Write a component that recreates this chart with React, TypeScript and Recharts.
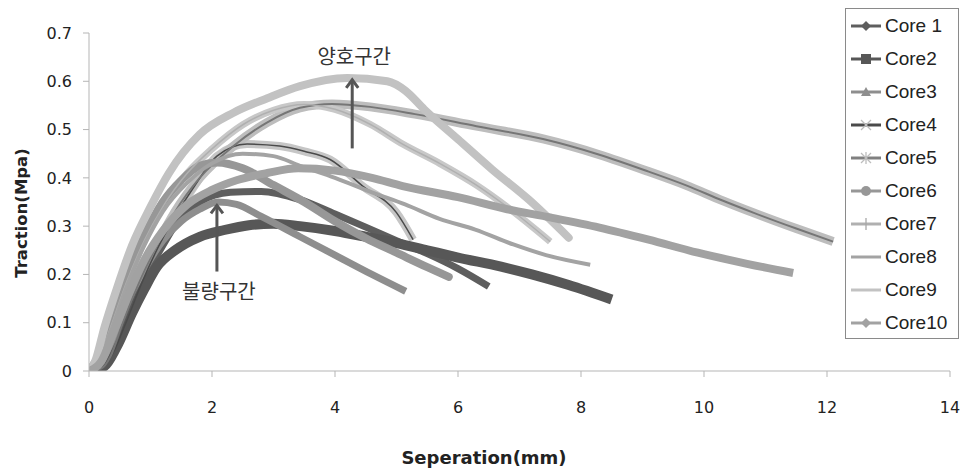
import React from 'react';
import { LineChart, Line, XAxis, YAxis, ReferenceLine } from 'recharts';

// Traction-separation curves
const core1X = [0, 0.2, 0.4, 0.65, 0.9, 1.2, 1.5, 1.8, 2.3, 2.8, 3.43, 4.0, 4.5, 5.0, 5.5, 6.0, 6.5];
const core1Y = [0, 0.01, 0.05, 0.12, 0.19, 0.26, 0.32, 0.35, 0.37, 0.372, 0.355, 0.325, 0.298, 0.27, 0.243, 0.212, 0.175];

const core2X = [0, 0.25, 0.45, 0.7, 0.9, 1.1, 1.4, 1.8, 2.2, 2.6, 3.0, 3.43, 4.0, 4.5, 5.0, 5.5, 6.0, 6.7, 7.2, 7.8, 8.5];
const core2Y = [0, 0.01, 0.05, 0.12, 0.17, 0.215, 0.25, 0.278, 0.292, 0.302, 0.305, 0.3, 0.29, 0.278, 0.265, 0.25, 0.235, 0.216, 0.2, 0.178, 0.148];

const core3X = [0, 0.2, 0.4, 0.65, 0.9, 1.2, 1.5, 1.8, 2.1, 2.4, 2.8, 3.43, 4.0, 4.6, 5.15];
const core3Y = [0, 0.02, 0.07, 0.15, 0.21, 0.27, 0.31, 0.335, 0.35, 0.345, 0.32, 0.278, 0.24, 0.2, 0.165];

const core4X = [0, 0.2, 0.4, 0.6, 0.85, 1.1, 1.4, 1.7, 2.08, 2.57, 3.1, 3.5, 3.92, 4.45, 5.0, 5.27];
const core4Y = [0, 0.005, 0.04, 0.1, 0.18, 0.25, 0.32, 0.38, 0.445, 0.47, 0.466, 0.455, 0.438, 0.383, 0.328, 0.272];

const core5X = [0, 0.2, 0.35, 0.55, 0.8, 1.1, 1.4, 1.8, 2.34, 2.9, 3.43, 3.95, 4.57, 5.3, 6.3, 7.4, 8.3, 9.1, 9.7, 10.3, 10.8, 11.5, 12.1];
const core5Y = [0, 0.005, 0.03, 0.1, 0.18, 0.26, 0.33, 0.4, 0.465, 0.515, 0.545, 0.553, 0.547, 0.532, 0.507, 0.48, 0.448, 0.413, 0.385, 0.353, 0.328, 0.295, 0.268];

const core6X = [0, 0.15, 0.35, 0.6, 0.9, 1.2, 1.5, 1.8, 2.08, 2.5, 3.0, 3.5, 4.0, 4.5, 5.0, 5.5, 5.85];
const core6Y = [0, 0.03, 0.1, 0.19, 0.28, 0.35, 0.395, 0.425, 0.432, 0.42, 0.385, 0.35, 0.31, 0.275, 0.245, 0.215, 0.195];

const core7X = [0, 0.15, 0.35, 0.6, 0.9, 1.2, 1.6, 2.0, 2.5, 3.0, 3.5, 4.0, 4.57, 5.1, 5.7, 6.3, 6.85, 7.5];
const core7Y = [0, 0.02, 0.09, 0.18, 0.27, 0.34, 0.41, 0.46, 0.51, 0.54, 0.552, 0.542, 0.511, 0.47, 0.43, 0.385, 0.335, 0.268];

const core8X = [0, 0.15, 0.35, 0.6, 0.9, 1.2, 1.6, 2.0, 2.5, 3.0, 3.43, 4.0, 4.6, 5.14, 5.7, 6.28, 6.9, 7.43, 8.15];
const core8Y = [0, 0.02, 0.08, 0.17, 0.26, 0.33, 0.39, 0.43, 0.45, 0.445, 0.425, 0.4, 0.37, 0.345, 0.315, 0.293, 0.262, 0.24, 0.22];

const core9X = [0, 0.1, 0.25, 0.45, 0.7, 1.0, 1.3, 1.8, 2.35, 2.9, 3.43, 4.2, 4.85, 5.15, 5.45, 6.0, 6.55, 7.15, 7.8];
const core9Y = [0, 0.02, 0.09, 0.17, 0.26, 0.34, 0.41, 0.49, 0.535, 0.565, 0.59, 0.607, 0.6, 0.58, 0.542, 0.48, 0.418, 0.355, 0.276];

const core10X = [0, 0.2, 0.4, 0.65, 0.9, 1.2, 1.6, 2.0, 2.4, 2.9, 3.4, 4.0, 4.6, 5.1, 6.0, 6.8, 7.5, 8.3, 9.1, 9.9, 10.7, 11.45];
const core10Y = [0, 0.02, 0.08, 0.16, 0.23, 0.29, 0.345, 0.375, 0.395, 0.41, 0.42, 0.415, 0.4, 0.383, 0.36, 0.335, 0.318, 0.297, 0.272, 0.245, 0.222, 0.203];

const xTicks = [0, 2, 4, 6, 8, 10, 12, 14];
const yTicks = [0, 0.1, 0.2, 0.3, 0.4, 0.5, 0.6, 0.7];

const toPts = (xs: number[], ys: number[]) => xs.map((x, i) => ({ x, y: ys[i] }));

type Series = {
  name: string;
  data: { x: number; y: number }[];
  color: string;
  width: number;
  under?: string; // light marker band under a thin line
  underWidth?: number;
  marker: string;
  markerColor: string;
};

const series: Series[] = [
  { name: 'Core 1', data: toPts(core1X, core1Y), color: '#5e5e5e', width: 7, marker: 'diamond', markerColor: '#5e5e5e' },
  { name: 'Core2', data: toPts(core2X, core2Y), color: '#575757', width: 10, marker: 'square', markerColor: '#575757' },
  { name: 'Core3', data: toPts(core3X, core3Y), color: '#8e8e8e', width: 7, marker: 'triangle', markerColor: '#8e8e8e' },
  { name: 'Core4', data: toPts(core4X, core4Y), color: '#4a4a4a', width: 1.5, under: '#c6c6c6', underWidth: 8, marker: 'x', markerColor: '#bdbdbd' },
  { name: 'Core5', data: toPts(core5X, core5Y), color: '#767676', width: 2, under: '#bdbdbd', underWidth: 9, marker: 'star', markerColor: '#bdbdbd' },
  { name: 'Core6', data: toPts(core6X, core6Y), color: '#979797', width: 8, marker: 'circle', markerColor: '#979797' },
  { name: 'Core7', data: toPts(core7X, core7Y), color: '#b0b0b0', width: 1.5, under: '#c8c8c8', underWidth: 7, marker: 'plus', markerColor: '#a8a8a8' },
  { name: 'Core8', data: toPts(core8X, core8Y), color: '#a3a3a3', width: 4, marker: 'none', markerColor: '#a3a3a3' },
  { name: 'Core9', data: toPts(core9X, core9Y), color: '#c2c2c2', width: 8, marker: 'none', markerColor: '#c2c2c2' },
  { name: 'Core10', data: toPts(core10X, core10Y), color: '#a2a2a2', width: 8, marker: 'diamond', markerColor: '#a2a2a2' },
];

const notes = [
  { text: '양호구간', x: 4.28, from: 0.461, to: 0.605, textAbove: true },
  { text: '불량구간', x: 2.08, from: 0.206, to: 0.345, textAbove: false },
];

const tickFont = { fontFamily: 'DejaVu Sans', fontSize: 16, fill: '#222' };

const LegendMark = ({ kind, color }: { kind: string; color: string }) => {
  const cx = 15;
  const cy = 8;
  switch (kind) {
    case 'diamond':
      return <polygon points={`${cx},${cy - 5} ${cx + 5},${cy} ${cx},${cy + 5} ${cx - 5},${cy}`} fill={color} />;
    case 'square':
      return <rect x={cx - 5} y={cy - 5} width={10} height={10} fill={color} />;
    case 'triangle':
      return <polygon points={`${cx},${cy - 5} ${cx + 5},${cy + 4} ${cx - 5},${cy + 4}`} fill={color} />;
    case 'x':
      return (
        <g stroke={color} strokeWidth={1.3}>
          <line x1={cx - 5} y1={cy - 5} x2={cx + 5} y2={cy + 5} />
          <line x1={cx - 5} y1={cy + 5} x2={cx + 5} y2={cy - 5} />
        </g>
      );
    case 'star':
      return (
        <g stroke={color} strokeWidth={1.3}>
          <line x1={cx - 5} y1={cy - 5} x2={cx + 5} y2={cy + 5} />
          <line x1={cx - 5} y1={cy + 5} x2={cx + 5} y2={cy - 5} />
          <line x1={cx} y1={cy - 6} x2={cx} y2={cy + 6} />
        </g>
      );
    case 'circle':
      return <circle cx={cx} cy={cy} r={5} fill={color} />;
    case 'plus':
      return (
        <g stroke={color} strokeWidth={1.3}>
          <line x1={cx} y1={cy - 6} x2={cx} y2={cy + 6} />
        </g>
      );
    default:
      return null;
  }
};

const ChartLegend = () => (
  <div
    style={{
      position: 'absolute',
      left: 845,
      top: 8,
      width: 114,
      height: 331,
      border: '1px solid #8a8a8a',
      background: '#fff',
      boxSizing: 'border-box',
    }}
  >
    {series.map((s) => (
      <div key={s.name} style={{ height: 33, display: 'flex', alignItems: 'center', paddingLeft: 5 }}>
        <svg width={32} height={16} style={{ flex: 'none' }}>
          <line x1={0} y1={8} x2={30} y2={8} stroke={s.name === 'Core5' ? '#808080' : s.color} strokeWidth={3} />
          <LegendMark kind={s.marker} color={s.markerColor} />
        </svg>
        <span style={{ fontFamily: 'Liberation Sans', fontSize: 19, color: '#222', marginLeft: 2 }}>{s.name}</span>
      </div>
    ))}
  </div>
);

const arrowShape = (note: typeof notes[number]) => (props: any) => {
  const { x1, y1, x2, y2 } = props;
  const tipX = x2;
  const tipY = Math.min(y1, y2);
  const baseY = Math.max(y1, y2);
  return (
    <g>
      <line x1={x1} y1={baseY} x2={tipX} y2={tipY + 1} stroke="#555" strokeWidth={3} />
      <polyline
        points={`${tipX - 6},${tipY + 9} ${tipX},${tipY + 1} ${tipX + 6},${tipY + 9}`}
        fill="none"
        stroke="#555"
        strokeWidth={3}
      />
      <text
        x={tipX + 2}
        y={note.textAbove ? tipY - 15 : baseY + 27}
        textAnchor="middle"
        fontFamily="Noto Sans CJK KR"
        fontSize={20}
        fill="#333"
      >
        {note.text}
      </text>
    </g>
  );
};

export default function App() {
  return (
    <div style={{ position: 'absolute', left: 0, top: 0, width: 968, height: 470, background: '#fff' }}>
      <LineChart width={968} height={470} margin={{ top: 33, right: 18, bottom: 0, left: 0 }}>
        <XAxis
          type="number"
          dataKey="x"
          domain={[0, 14]}
          ticks={xTicks}
          allowDataOverflow
          stroke="#b5b5b5"
          tick={tickFont}
          tickSize={6}
          tickMargin={25}
          height={99}
          label={{
            content: () => (
              <text x={484} y={464} textAnchor="middle" fontFamily="DejaVu Sans" fontWeight="bold" fontSize={18} fill="#222">
                Seperation(mm)
              </text>
            ),
          }}
        />
        <YAxis
          type="number"
          domain={[0, 0.7]}
          ticks={yTicks}
          allowDataOverflow
          width={89}
          stroke="#b5b5b5"
          tick={tickFont}
          tickSize={6}
          tickMargin={11}
          tickFormatter={(v: number) => (v === 0 ? '0' : v.toFixed(1))}
          label={{
            content: () => (
              <text
                x={0}
                y={0}
                transform="translate(27,213) rotate(-90)"
                textAnchor="middle"
                fontFamily="DejaVu Sans"
                fontWeight="bold"
                fontSize={16.5}
                fill="#222"
              >
                Traction(Mpa)
              </text>
            ),
          }}
        />
        {series.map((s) =>
          s.under ? (
            <Line
              key={s.name + '-band'}
              data={s.data}
              dataKey="y"
              type="monotone"
              stroke={s.under}
              strokeWidth={s.underWidth}
              dot={false}
              activeDot={false}
              legendType="none"
              isAnimationActive={false}
            />
          ) : null
        )}
        {series.map((s) => (
          <Line
            key={s.name}
            name={s.name}
            data={s.data}
            dataKey="y"
            type="monotone"
            stroke={s.color}
            strokeWidth={s.width}
            strokeLinecap={s.name === 'Core6' || s.name === 'Core9' ? 'round' : 'butt'}
            strokeLinejoin="round"
            dot={false}
            activeDot={false}
            isAnimationActive={false}
          />
        ))}
        {notes.map((n) => (
          <ReferenceLine
            key={n.text}
            segment={[
              { x: n.x, y: n.from },
              { x: n.x, y: n.to },
            ]}
            shape={arrowShape(n)}
          />
        ))}
      </LineChart>
      <ChartLegend />
    </div>
  );
}
